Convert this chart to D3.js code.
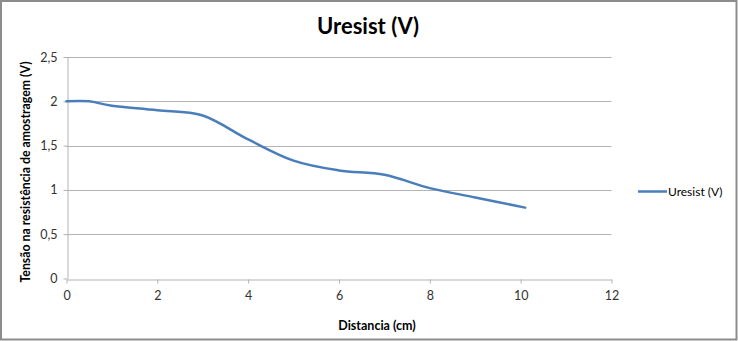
<!DOCTYPE html>
<html><head><meta charset="utf-8">
<script src="https://cdn.jsdelivr.net/npm/d3@7"></script>
<style>
html,body{margin:0;padding:0;background:#fff;}
svg{display:block;font-family:Lato,"Open Sans",sans-serif;}
</style></head>
<body>
<svg id="chart" width="738" height="341"></svg>
<script>
const distancia = [0, 0.5, 1, 2, 3, 4, 5, 6, 7, 8, 9, 10.1];
const uresist = [2.0, 2.0, 1.95, 1.9, 1.84, 1.57, 1.33, 1.22, 1.17, 1.02, 0.915, 0.80];
const xTicks = [0, 2, 4, 6, 8, 10, 12];
const yTicks = [0, 0.5, 1, 1.5, 2, 2.5];
const yTickLabels = ["0", "0,5", "1", "1,5", "2", "2,5"];
const titleText = "Uresist (V)";
const seriesName = "Uresist (V)";
const xTitle = "Distancia (cm)";
const yTitle = "Tensão na resistência de amostragem (V)";

const svg = d3.select("#chart");
const W = 738, H = 341;
svg.append("rect").attr("x", 1).attr("y", 1).attr("width", W - 2.5).attr("height", H - 2.5)
  .attr("fill", "#fff").attr("stroke", "#8c8c8c").attr("stroke-width", 2);

const x = d3.scaleLinear().domain([0, 12]).range([66.5, 611.5]);
const y = d3.scaleLinear().domain([0, 2.5]).range([278.5, 57]);

// gridlines
svg.append("g").selectAll("line").data(yTicks.slice(1)).join("line")
  .attr("x1", x(0)).attr("x2", x(12))
  .attr("y1", d => Math.round(y(d)) + 0.5).attr("y2", d => Math.round(y(d)) + 0.5)
  .attr("stroke", "#b3b3b3").attr("stroke-width", 1);

// axes
const xAxis = d3.axisBottom(x).tickValues(xTicks).tickSize(4).tickSizeOuter(0).tickFormat(d3.format("d"));
const gx = svg.append("g").attr("transform", `translate(0,${Math.round(y(0)) + 0.5})`).call(xAxis);
gx.select(".domain").attr("stroke", "#b3b3b3");
gx.selectAll(".tick line").attr("stroke", "#b3b3b3");
gx.selectAll(".tick text").attr("font-size", 12.5).attr("fill", "#333").attr("dy", "1.05em")
  .attr("font-family", "Lato, 'Open Sans', sans-serif");

const yAxis = d3.axisLeft(y).tickValues(yTicks).tickSize(4).tickSizeOuter(0)
  .tickFormat((d, i) => yTickLabels[i]);
const gy = svg.append("g").attr("transform", `translate(${Math.round(x(0)) + 0.5},0)`).call(yAxis);
gy.select(".domain").attr("stroke", "#b3b3b3");
gy.selectAll(".tick line").attr("stroke", "#b3b3b3");
gy.selectAll(".tick text").attr("font-size", 12.5).attr("fill", "#333").attr("x", -10)
  .attr("font-family", "Lato, 'Open Sans', sans-serif");

// line
const pts = distancia.map((d, i) => [d, uresist[i]]);
const line = d3.line().x(d => x(d[0])).y(d => y(d[1])).curve(d3.curveCatmullRom.alpha(0));
svg.append("path").datum(pts).attr("d", line).attr("fill", "none")
  .attr("stroke", "#4a7ebb").attr("stroke-width", 2.5).attr("stroke-linecap", "round");

// title
svg.append("text").attr("x", 368).attr("y", 34).attr("text-anchor", "middle")
  .attr("font-size", 22).attr("font-weight", "bold").attr("fill", "#000").text(titleText);

// axis titles
svg.append("text").attr("x", 377).attr("y", 330).attr("text-anchor", "middle")
  .attr("font-size", 12.5).attr("font-weight", "bold").attr("fill", "#000").text(xTitle);
svg.append("text").attr("transform", "translate(30,172) rotate(-90)").attr("text-anchor", "middle")
  .attr("font-size", 12.3).attr("font-weight", "bold").attr("fill", "#000").text(yTitle);

// legend
svg.append("line").attr("x1", 638).attr("x2", 667).attr("y1", 191.5).attr("y2", 191.5)
  .attr("stroke", "#4a7ebb").attr("stroke-width", 2.5);
svg.append("text").attr("x", 668).attr("y", 196).attr("font-size", 12).attr("fill", "#000").text(seriesName);
</script>
</body></html>
